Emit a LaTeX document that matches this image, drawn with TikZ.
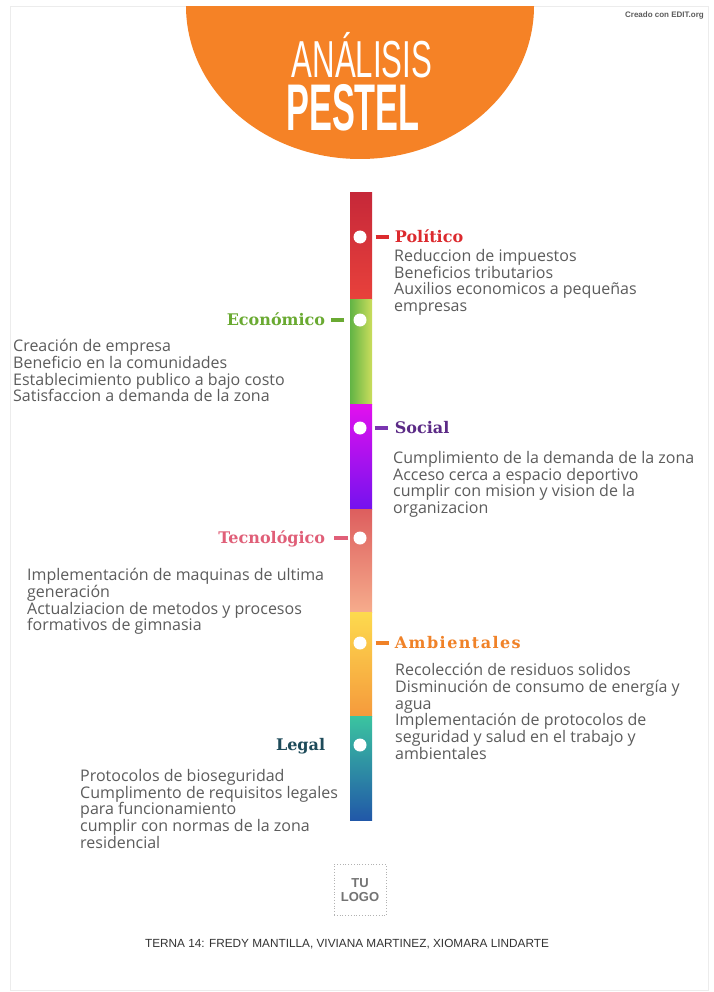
\documentclass[tikz,border=0pt]{standalone}
\usepackage{fontspec}
\setmainfont{Open Sans}
\newfontfamily\headfont{DejaVu Serif}
\newfontfamily\thinfont[FakeStretch=0.6]{Liberation Sans}
\newfontfamily\widefont[FakeStretch=0.52]{Liberation Sans}
\newfontfamily\tagfont{Liberation Sans}
\usetikzlibrary{positioning}

\definecolor{bannerorange}{HTML}{F58226}
\definecolor{framegray}{HTML}{ECECEC}
\definecolor{listgray}{HTML}{5C5C5C}
\definecolor{polred}{HTML}{DC2A2E}
\definecolor{ecogreen}{HTML}{6AAA32}
\definecolor{socpurple}{HTML}{5B2A86}
\definecolor{socdash}{HTML}{7A35B0}
\definecolor{tecpink}{HTML}{E05F78}
\definecolor{ambonange}{HTML}{F08228}
\definecolor{legteal}{HTML}{1E4B5A}
% bar colours
\definecolor{bara1}{HTML}{C62839}
\definecolor{bara2}{HTML}{E8413B}
\definecolor{barb1}{HTML}{62B445}
\definecolor{barb2}{HTML}{CADD5C}
\definecolor{barc1}{HTML}{E211EE}
\definecolor{barc2}{HTML}{7412EE}
\definecolor{bard1}{HTML}{DD5E5E}
\definecolor{bard2}{HTML}{F6AC8C}
\definecolor{bare1}{HTML}{FDDA4E}
\definecolor{bare2}{HTML}{F59A3C}
\definecolor{barf1}{HTML}{3BC4A0}
\definecolor{barf2}{HTML}{2158A8}

\begin{document}
\begin{tikzpicture}[%
	x=1pt,
	y=-1pt,
	dot node/.style={
		circle,
		fill=white,
		minimum size=13pt,
		inner sep=0pt
	},
	head node/.style={
		inner sep=0pt,
		yshift=-3pt,
		font=\headfont\bfseries\fontsize{16}{18}\selectfont
	},
	list node/.style={
		inner sep=0pt,
		anchor=north west,
		align=left,
		text=listgray,
		font=\fontsize{16}{16.8}\selectfont
	},
	tick line/.style={
		line width=4pt
	},
]
	\useasboundingbox[fill=white] (0,0) rectangle (713,992);
	\draw[framegray, line width=1pt] (10,7) rectangle (708,990);

	% banner
	\begin{scope}
		\clip (10,7) rectangle (708,990);
		\fill[bannerorange] (360,6) ellipse [x radius=174pt, y radius=153pt];
	\end{scope}
	\node[inner sep=0pt, anchor=south, align=center, text=white, font=\fontsize{52}{53}\selectfont] (title) at (353,131) {\hspace*{18pt}{\thinfont ANÁLISIS}\\{\widefont\bfseries\fontsize{66}{53}\selectfont PESTEL}};
	\node[inner sep=0pt, anchor=base east, text=listgray, font=\tagfont\bfseries\fontsize{8}{8}\selectfont] (credit) at (704,18) {Creado con EDIT.org};

	% colour bar
	\shade[top color=bara1, bottom color=bara2] (350,193) rectangle (372,299);
	\shade[left color=barb1, right color=barb2] (350,299) rectangle (372,404);
	\shade[top color=barc1, bottom color=barc2] (350,404) rectangle (372,509);
	\shade[top color=bard1, bottom color=bard2] (350,509) rectangle (372,612);
	\shade[top color=bare1, bottom color=bare2] (350,612) rectangle (372,716);
	\shade[top color=barf1, bottom color=barf2] (350,716) rectangle (372,820);

	\node[dot node] (pdot) at (360,237) {};
	\node[dot node] (edot) at (360,320) {};
	\node[dot node] (sdot) at (360,428) {};
	\node[dot node] (tdot) at (360,538) {};
	\node[dot node] (adot) at (360,643) {};
	\node[dot node] (ldot) at (360,745) {};

	% headings
	\node[head node, right = 28pt of pdot, anchor=mid west, text=polred] (pol) {Político};
	\node[head node, left = 28pt of edot, anchor=mid east, text=ecogreen] (eco) {Económico};
	\node[head node, right = 28pt of sdot, anchor=mid west, text=socpurple] (soc) {Social};
	\node[head node, left = 28pt of tdot, anchor=mid east, text=tecpink] (tec) {Tecnológico};
	\node[head node, right = 28pt of adot, anchor=mid west, text=ambonange] (amb) {\addfontfeature{LetterSpace=9}Ambientales};
	\node[head node, left = 28pt of ldot, anchor=mid east, text=legteal] (leg) {Legal};

	\draw[tick line, polred] ([xshift=9pt]pdot.east) -- ([xshift=22pt]pdot.east);
	\draw[tick line, ecogreen] ([xshift=-9pt]edot.west) -- ([xshift=-22pt]edot.west);
	\draw[tick line, socdash] ([xshift=8pt]sdot.east) -- ([xshift=21pt]sdot.east);
	\draw[tick line, tecpink] ([xshift=-5pt]tdot.west) -- ([xshift=-19pt]tdot.west);
	\draw[tick line, ambonange] ([xshift=9pt]adot.east) -- ([xshift=22pt]adot.east);

	% lists
	\node[list node] (plist) at (394,249) {Reduccion de impuestos\\Beneficios tributarios\\Auxilios economicos a pequeñas\\empresas};
	\node[list node] (elist) at (13,339) {Creación de empresa\\Beneficio en la comunidades\\Establecimiento publico a bajo costo\\Satisfaccion a demanda de la zona};
	\node[list node] (slist) at (393,451) {Cumplimiento de la demanda de la zona\\Acceso cerca a espacio deportivo\\cumplir con mision y vision de la\\organizacion};
	\node[list node] (tlist) at (27,568) {Implementación de maquinas de ultima\\generación\\Actualziacion de metodos y procesos\\formativos de gimnasia};
	\node[list node] (alist) at (395,663) {Recolección de residuos solidos\\Disminución de consumo de energía y\\agua\\Implementación de protocolos de\\seguridad y salud en el trabajo y\\ambientales};
	\node[list node] (llist) at (80,769) {Protocolos de bioseguridad\\Cumplimento de requisitos legales\\para funcionamiento\\cumplir con normas de la zona\\residencial};

	% logo and footer
	\node[draw=gray!60, dotted, thick, minimum width=52pt, minimum height=51pt, inner sep=0pt, align=center, text=gray!90!black, font=\tagfont\bfseries\fontsize{13}{14}\selectfont] (logo) at (360,890) {TU\\LOGO};
	\node[inner sep=0pt, anchor=base, text=black!80, font=\tagfont\fontsize{11.8}{12}\selectfont] (team) at (347,947) {TERNA 14: FREDY MANTILLA, VIVIANA MARTINEZ, XIOMARA LINDARTE};
\end{tikzpicture}
\end{document}
